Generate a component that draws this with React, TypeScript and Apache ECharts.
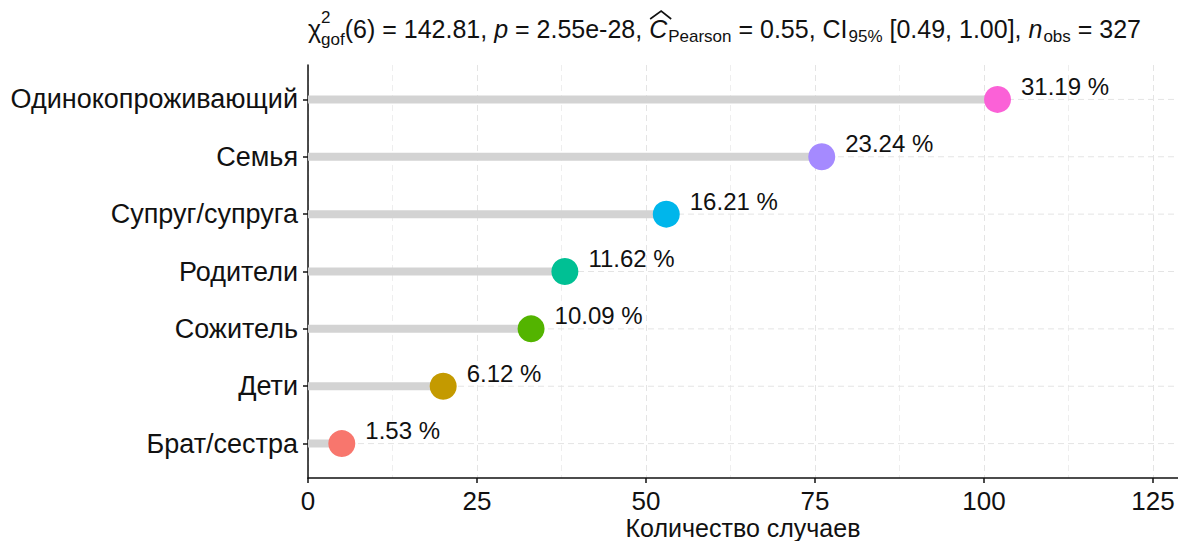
import React, { useEffect, useRef } from "react";
import * as echarts from "echarts";

// Living arrangement categories, bottom to top
const categories = [
  "Брат/сестра",
  "Дети",
  "Сожитель",
  "Родители",
  "Супруг/супруга",
  "Семья",
  "Одинокопроживающий",
];
const counts = [5, 20, 33, 38, 53, 76, 102];
const dotColors = ["#F8766D", "#C49A00", "#53B400", "#00C094", "#00B6EB", "#A58AFF", "#FB61D7"];
const xTicks = [0, 25, 50, 75, 100, 125];
const xTitle = "Количество случаев";

// Goodness-of-fit statistics shown in the subtitle
const chiDf = 6;
const chiValue = "142.81";
const pValue = "2.55e-28";
const cramerValue = "0.55";
const ciLow = "0.49";
const ciHigh = "1.00";
const nObs = 327;

const FONT = "'Liberation Sans', Arial, Helvetica, sans-serif";
const INK = "#111111";

type Seg = { t?: string; k: "n" | "i" | "sub" | "supsub"; sup?: string; sub?: string; hat?: boolean };

const titleSegs: Seg[] = [
  { t: "χ", k: "n" },
  { k: "supsub", sup: "2", sub: "gof" },
  { t: `(${chiDf}) = ${chiValue}, `, k: "n" },
  { t: "p", k: "i" },
  { t: ` = ${pValue}, `, k: "n" },
  { t: "C", k: "i", hat: true },
  { t: "Pearson", k: "sub" },
  { t: ` = ${cramerValue}, CI`, k: "n" },
  { t: "95%", k: "sub" },
  { t: ` [${ciLow}, ${ciHigh}], `, k: "n" },
  { t: "n", k: "i" },
  { t: "obs", k: "sub" },
  { t: ` = ${nObs}`, k: "n" },
];

function buildTitle(leftX: number, midY: number, size: number, small: number) {
  const ctx = document.createElement("canvas").getContext("2d")!;
  const w = (text: string, sz: number, italic = false) => {
    ctx.font = `${italic ? "italic " : ""}${sz}px ${FONT}`;
    return ctx.measureText(text).width;
  };
  const widthOf = (s: Seg) => {
    if (s.k === "supsub") return Math.max(w(s.sup!, small), w(s.sub!, small));
    if (s.k === "sub") return w(s.t!, small);
    return w(s.t!, size, s.k === "i");
  };
  let x = leftX;
  const els: any[] = [];
  const txt = (text: string, px: number, py: number, sz: number, italic = false) => ({
    type: "text",
    x: px,
    y: py,
    style: {
      text,
      fill: INK,
      font: `${italic ? "italic " : ""}${sz}px ${FONT}`,
      textAlign: "left",
      textVerticalAlign: "middle",
    },
    silent: true,
  });
  for (const s of titleSegs) {
    const sw = widthOf(s);
    if (s.k === "supsub") {
      els.push(txt(s.sup!, x, midY - 12, small));
      els.push(txt(s.sub!, x, midY + 10, small));
    } else if (s.k === "sub") {
      els.push(txt(s.t!, x + 1, midY + 7, small));
    } else {
      els.push(txt(s.t!, x, midY, size, s.k === "i"));
      if (s.hat) {
        // wide circumflex over the estimate symbol
        els.push({
          type: "polyline",
          shape: {
            points: [
              [x + 1, midY - 10],
              [x + sw / 2 + 3, midY - 18],
              [x + sw + 4, midY - 10],
            ],
          },
          style: { stroke: INK, lineWidth: 1.6, fill: null },
          silent: true,
        });
      }
    }
    x += sw + (s.k === "sub" ? 1 : 0);
  }
  return els;
}

const total = counts.reduce((a, b) => a + b, 0);
const catIdx = categories.map((_, i) => i);
const X_MAX = 128.7;

export default function App() {
  const ref = useRef<HTMLDivElement>(null);

  useEffect(() => {
    if (!ref.current) return;
    const chart = echarts.init(ref.current, undefined, { renderer: "svg" });
    const gridLeft = 308;
    const plotCenter = gridLeft + (1178 - gridLeft) / 2;

    chart.setOption({
      animation: false,
      backgroundColor: "#ffffff",
      textStyle: { fontFamily: FONT },
      grid: {
        left: gridLeft,
        right: 0,
        top: 65,
        bottom: 63,
        containLabel: false,
        outerBoundsMode: "none",
      },
      xAxis: {
        type: "value",
        min: 0,
        max: X_MAX,
        interval: 25,
        axisLine: { show: true, onZero: false, lineStyle: { color: INK, width: 1.5 } },
        axisTick: { show: true, length: 5, lineStyle: { color: INK, width: 1.5 } },
        axisLabel: {
          color: INK,
          fontSize: 26,
          lineHeight: 24,
          margin: 11,
          showMaxLabel: false,
          formatter: (v: number) => (xTicks.includes(v) ? String(v) : ""),
        },
        splitLine: { show: true, lineStyle: { color: "#e4e4e4", type: [6, 4], width: 1 } },
        minorTick: { show: false, splitNumber: 2 },
        minorSplitLine: { show: true, lineStyle: { color: "#eeeeee", type: [6, 4], width: 1 } },
      },
      yAxis: {
        type: "value",
        min: -0.6,
        max: 6.6,
        axisLine: { show: true, onZero: false, lineStyle: { color: INK, width: 1.5 } },
        axisTick: { show: true, length: 5, customValues: catIdx, lineStyle: { color: INK, width: 1.5 } },
        axisLabel: {
          customValues: catIdx,
          color: INK,
          fontSize: 27,
          margin: 10,
          formatter: (v: number) => categories[Math.round(v)] ?? "",
        },
        splitLine: { show: false },
      },
      series: [
        {
          type: "custom",
          name: "grid",
          silent: true,
          z: 1,
          data: catIdx.map((i) => [0, i]),
          renderItem: (params: any, api: any) => {
            const i = api.value(1);
            const a = api.coord([0, i]);
            const b = api.coord([X_MAX, i]);
            return {
              type: "line",
              shape: { x1: a[0], y1: a[1], x2: b[0], y2: b[1] },
              style: { stroke: "#e4e4e4", lineWidth: 1, lineDash: [6, 4] },
            };
          },
        },
        {
          type: "custom",
          name: "stems",
          silent: true,
          z: 2,
          data: counts.map((v, i) => [v, i]),
          renderItem: (params: any, api: any) => {
            const v = api.value(0);
            const i = api.value(1);
            const a = api.coord([0, i]);
            const b = api.coord([v, i]);
            return {
              type: "line",
              shape: { x1: a[0], y1: a[1], x2: b[0], y2: b[1] },
              style: { stroke: "#d3d3d3", lineWidth: 8 },
            };
          },
        },
        {
          type: "scatter",
          z: 3,
          symbolSize: 27,
          itemStyle: { opacity: 1 },
          data: counts.map((v, i) => ({ value: [v, i], itemStyle: { color: dotColors[i], opacity: 1 } })),
          label: {
            show: true,
            position: "right",
            distance: 8,
            offset: [2, -13],
            color: INK,
            fontSize: 24,
            formatter: (p: any) => `${((p.value[0] / total) * 100).toFixed(2)} %`,
          },
        },
      ],
      graphic: [
        ...buildTitle(gridLeft, 29, 25, 17),
        {
          type: "text",
          x: plotCenter,
          y: 528,
          silent: true,
          style: {
            text: xTitle,
            fill: INK,
            font: `25px ${FONT}`,
            lineHeight: 26,
            textAlign: "center",
            textVerticalAlign: "middle",
          },
        },
      ],
    });
    return () => chart.dispose();
  }, []);

  return (
    <div
      ref={ref}
      style={{ position: "fixed", left: 0, top: 0, width: 1178, height: 541, background: "#fff" }}
    />
  );
}
